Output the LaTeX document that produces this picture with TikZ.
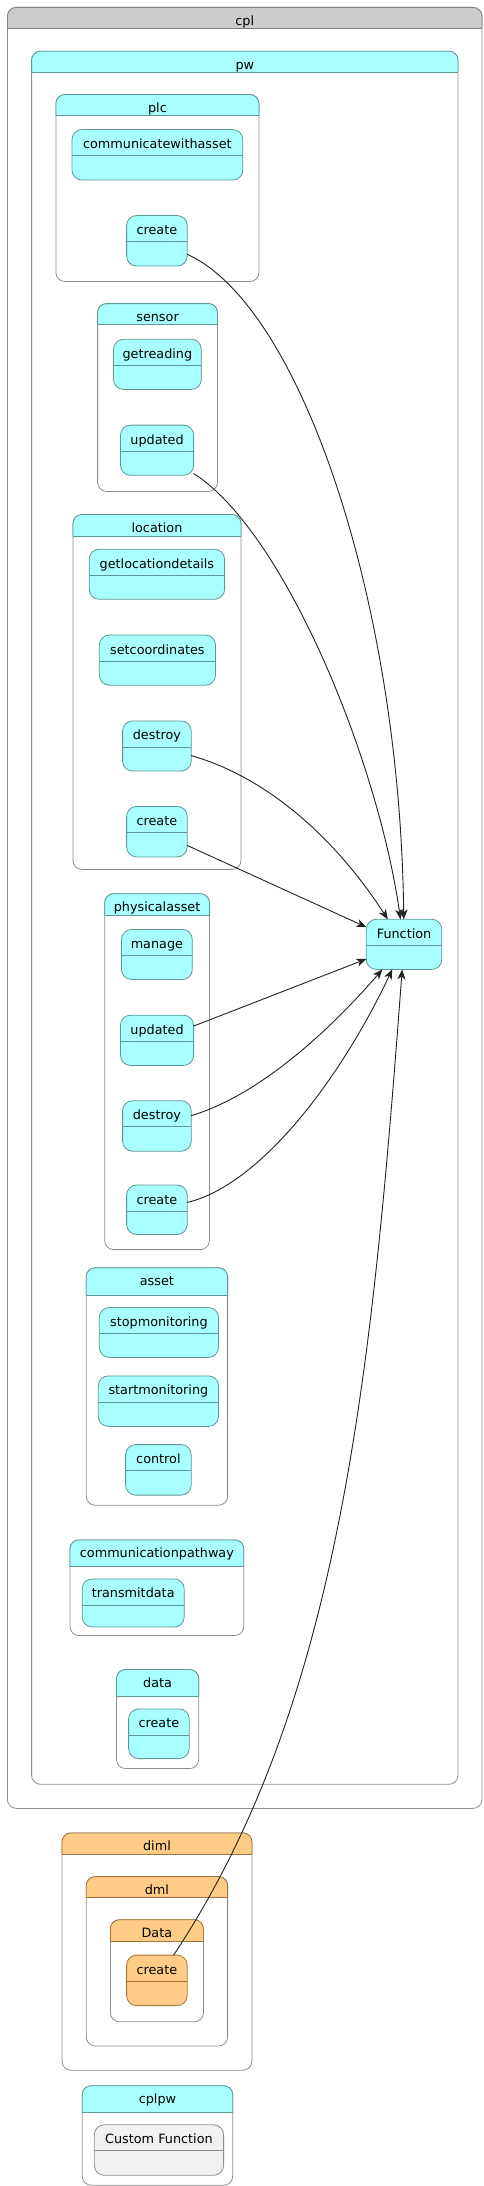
\documentclass[tikz,border=0pt]{standalone}
\usepackage{fontspec}
\setmainfont{DejaVu Sans}
\usetikzlibrary{arrows.meta,fit}
\definecolor{puCyan}{HTML}{A9FFFF}
\definecolor{puCyanLine}{HTML}{5F9696}
\definecolor{puOrange}{HTML}{FFCC88}
\definecolor{puOrangeLine}{HTML}{A0763C}
\definecolor{puGrey}{HTML}{CCCCCC}
\definecolor{puGreyLine}{HTML}{7F7F7F}
\definecolor{puPale}{HTML}{F1F1F1}
\definecolor{puFrame}{HTML}{8C8C8C}
\definecolor{puInk}{HTML}{222222}
\tikzset{
 pu frame/.style={draw=puFrame,line width=0.8pt,rounded corners=9pt,
                  inner sep=0pt,outer sep=0pt},
 pu state/.style={rectangle,line width=0.8pt,rounded corners=10pt,
                  inner sep=0pt,outer sep=0pt},
 pu title/.style={anchor=base,inner sep=0pt,font=\fontsize{12.8}{15}\selectfont},
 pu link/.style={draw=puInk,line width=0.9pt,
                 -{Stealth[length=10pt,width=8pt,inset=3pt]}}
}
% cluster: name, left, top, right, bottom, header height, text, fill, line
\newcommand{\pucluster}[9]{%
 \node[pu frame,fit={(#2,#3)(#4,#5)}] (#1) {};
 \fill[#8,rounded corners=9pt] (#2,#3+#6) -- (#2,#3) -- (#4,#3) -- (#4,#3+#6);
 \draw[#9,line width=0.8pt,rounded corners=9pt]
   (#2,#3+#6) -- (#2,#3) -- (#4,#3) -- (#4,#3+#6);
 \draw[#9,line width=0.8pt] (#2,#3+#6) -- (#4,#3+#6);
 \node[pu title] (#1-t) at ([yshift=-18pt]#1.north) {#7};}
% state: name, left, top, right, bottom, text, fill, line
\newcommand{\pustate}[8]{%
 \node[pu state,fill=#7,draw=#8,fit={(#2,#3)(#4,#5)}] (#1) {};
 \draw[#8,line width=0.8pt] ([yshift=-26pt]#1.north west) -- ([yshift=-26pt]#1.north east);
 \node[pu title] (#1-t) at ([yshift=-19pt]#1.north) {#6};}

\begin{document}
\begin{tikzpicture}[x=1pt,y=-1pt]
 \useasboundingbox (0,0) rectangle (483,2186);

 \pucluster{cpl}{7.4}{7.4}{482}{1808.4}{21.2}{cpl}{puGrey}{puGreyLine}
 \pucluster{pw}{31.6}{51.2}{458}{1784.3}{20.8}{pw}{puCyan}{puCyanLine}

 \pucluster{plc}{55.9}{94.6}{259}{281.5}{20.9}{plc}{puCyan}{puCyanLine}
 \pustate{plcComm}{72}{129.6}{242.8}{180.1}{communicatewithasset}{puCyan}{puCyanLine}
 \pustate{plcCreate}{126.6}{215.5}{187.2}{266}{create}{puCyan}{puCyanLine}

 \pucluster{sensor}{97.6}{303.6}{217.5}{491.4}{21.2}{sensor}{puCyan}{puCyanLine}
 \pustate{senRead}{113.5}{339.3}{201.3}{389.4}{getreading}{puCyan}{puCyanLine}
 \pustate{senUpdated}{120.5}{425.1}{193.6}{475.3}{updated}{puCyan}{puCyanLine}

 \pucluster{location}{73}{514.5}{241}{869.4}{21.5}{location}{puCyan}{puCyanLine}
 \pustate{locDetails}{89.2}{549.2}{224.6}{599.3}{getlocationdetails}{puCyan}{puCyanLine}
 \pustate{locCoords}{99.3}{635}{215.5}{685.2}{setcoordinates}{puCyan}{puCyanLine}
 \pustate{locDestroy}{122.6}{720.9}{191.2}{771}{destroy}{puCyan}{puCyanLine}
 \pustate{locCreate}{126.6}{806.4}{187.2}{856.9}{create}{puCyan}{puCyanLine}

 \pucluster{phys}{104.7}{893.7}{209.4}{1249.6}{21.2}{physicalasset}{puCyan}{puCyanLine}
 \pustate{physManage}{121.5}{929.4}{192.3}{979.5}{manage}{puCyan}{puCyanLine}
 \pustate{physUpdated}{120.5}{1015.2}{193.6}{1065.4}{updated}{puCyan}{puCyanLine}
 \pustate{physDestroy}{122.6}{1100.7}{191.2}{1151.2}{destroy}{puCyan}{puCyanLine}
 \pustate{physCreate}{126.6}{1185}{187.2}{1234.5}{create}{puCyan}{puCyanLine}

 \pucluster{asset}{86.2}{1267.8}{227.6}{1505.2}{27.3}{asset}{puCyan}{puCyanLine}
 \pustate{assetStop}{99.3}{1307.5}{218.5}{1357.4}{stopmonitoring}{puCyan}{puCyanLine}
 \pustate{assetStart}{98.3}{1375.9}{218.5}{1426.4}{startmonitoring}{puCyan}{puCyanLine}
 \pustate{assetControl}{125.6}{1444.6}{191.2}{1495.1}{control}{puCyan}{puCyanLine}

 \pucluster{commpath}{70}{1539.9}{243.8}{1635.5}{26.9}{communicationpathway}{puCyan}{puCyanLine}
 \pustate{commTransmit}{82.2}{1578.9}{184.2}{1627}{transmitdata}{puCyan}{puCyanLine}

 \pucluster{data}{116.5}{1669.5}{198.7}{1768.5}{27.3}{data}{puCyan}{puCyanLine}
 \pustate{dataCreate}{128.6}{1708.9}{189.2}{1758.6}{create}{puCyan}{puCyanLine}

 \pustate{fnFunction}{366.3}{919.3}{441.8}{969.4}{Function}{puCyan}{puCyanLine}

 \pucluster{diml}{62}{1832.9}{251.9}{2070.2}{21.2}{diml}{puOrange}{puOrangeLine}
 \pucluster{dml}{86.2}{1876.6}{227.6}{2046}{20.9}{dml}{puOrange}{puOrangeLine}
 \pucluster{dmlData}{110.4}{1919.7}{203.4}{2021.8}{21.2}{Data}{puOrange}{puOrangeLine}
 \pustate{dmlCreate}{126.6}{1955.1}{187.2}{2005.6}{create}{puOrange}{puOrangeLine}

 \pucluster{cplpw}{82.2}{2085.7}{232.7}{2185.2}{27}{cplpw}{puCyan}{puCyanLine}
 \pustate{cplCustom}{94.3}{2124.8}{223.6}{2175.3}{Custom Function}{puPale}{puFrame}

 % links into Function
 \draw[pu link] (plcCreate) .. controls (300,305) and (400,600) .. (fnFunction);
 \draw[pu link] (senUpdated) .. controls (284,531) and (378,760) .. (fnFunction);
 \draw[pu link] (locDestroy) .. controls (260,775) and (330,830) .. (fnFunction);
 \draw[pu link] (locCreate) -- (fnFunction);
 \draw[pu link] (physUpdated) -- (fnFunction);
 \draw[pu link] (physDestroy) .. controls (260,1095) and (330,1030) .. (fnFunction);
 \draw[pu link] (physCreate) .. controls (260,1185) and (340,1080) .. (fnFunction);
 \draw[pu link] (dmlCreate) .. controls (340.8,1703) and (372.1,1371.6) .. (fnFunction);
\end{tikzpicture}
\end{document}
